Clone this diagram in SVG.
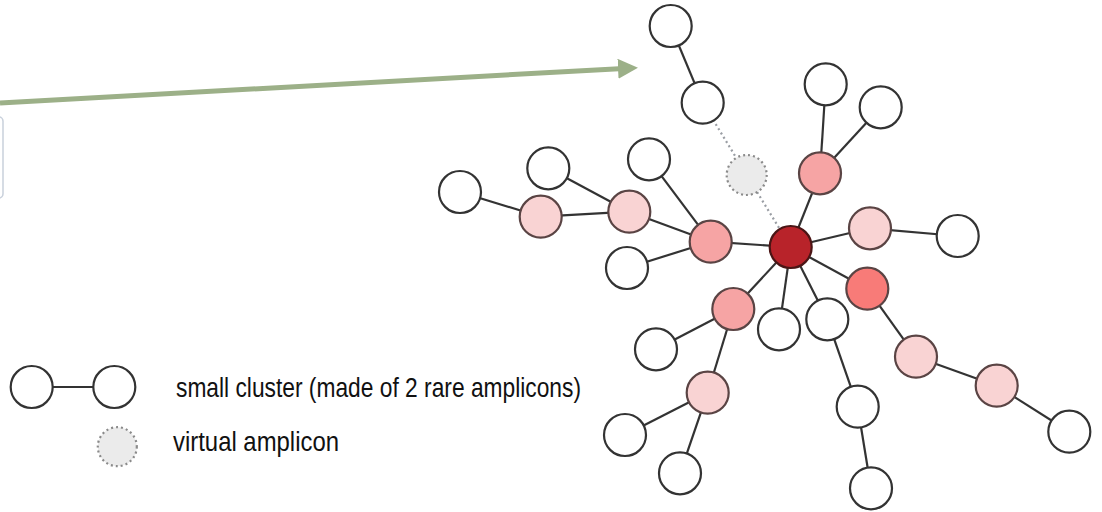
<svg xmlns="http://www.w3.org/2000/svg" width="1102" height="512" viewBox="0 0 1102 512">
<defs>
<style>
.edge{stroke:#333;stroke-width:2.2;fill:none}
.dot{stroke:#9a9ea4;stroke-width:2.2;stroke-dasharray:2 3;fill:none}
.n{stroke:#333;stroke-width:2.2}
.w{fill:#fff}
.lp{fill:#f9d3d3;stroke:#5a4444}
.mp{fill:#f6a4a4;stroke:#5a4444}
.sp{fill:#f87b78;stroke:#5a4444}
.dr{fill:#b8232a;stroke:#4a1515}
.va{fill:#ebebeb;stroke:#8a8a8a;stroke-width:2.2;stroke-dasharray:2 3}
.t{font-family:"Liberation Sans",Arial,sans-serif;font-size:27.5px;fill:#111}
</style>
<marker id="ah" markerUnits="userSpaceOnUse" markerWidth="22" markerHeight="22" refX="1" refY="10" orient="auto">
<path d="M0,0 L20,10 L0,20 z" fill="#9cb088"/>
</marker>
</defs>
<rect width="1102" height="512" fill="#fff"/>
<rect id="box" x="-20" y="117" width="23" height="81" rx="4" fill="#fff" stroke="#c9d1dc" stroke-width="1.5"/>
<g id="arrow">
<line x1="0" y1="103" x2="619" y2="68.7" stroke="#9cb088" stroke-width="5" marker-end="url(#ah)"/>
</g>
<g id="connectors">
<line class="edge" x1="670.7" y1="26" x2="702.7" y2="102.7"/>
<line class="dot" x1="702.7" y1="102.7" x2="746.7" y2="175"/>
<line class="dot" x1="746.7" y1="175" x2="790.7" y2="247"/>
<line class="edge" x1="460" y1="192" x2="540.7" y2="216.7"/>
<line class="edge" x1="540.7" y1="216.7" x2="629.3" y2="211.7"/>
<line class="edge" x1="548.3" y1="168.3" x2="629.3" y2="211.7"/>
<line class="edge" x1="629.3" y1="211.7" x2="710.7" y2="241.7"/>
<line class="edge" x1="649" y1="159.3" x2="710.7" y2="241.7"/>
<line class="edge" x1="627" y1="268" x2="710.7" y2="241.7"/>
<line class="edge" x1="710.7" y1="241.7" x2="790.7" y2="247"/>
<line class="edge" x1="790.7" y1="247" x2="820" y2="173.3"/>
<line class="edge" x1="820" y1="173.3" x2="825.7" y2="84.3"/>
<line class="edge" x1="820" y1="173.3" x2="880.7" y2="107.3"/>
<line class="edge" x1="790.7" y1="247" x2="870" y2="228.3"/>
<line class="edge" x1="870" y1="228.3" x2="957.7" y2="236"/>
<line class="edge" x1="790.7" y1="247" x2="867.3" y2="288.7"/>
<line class="edge" x1="867.3" y1="288.7" x2="916" y2="356.7"/>
<line class="edge" x1="916" y1="356.7" x2="996.7" y2="385.7"/>
<line class="edge" x1="996.7" y1="385.7" x2="1069.3" y2="431.7"/>
<line class="edge" x1="790.7" y1="247" x2="779" y2="329.3"/>
<line class="edge" x1="790.7" y1="247" x2="827.3" y2="319.3"/>
<line class="edge" x1="827.3" y1="319.3" x2="857.7" y2="406.7"/>
<line class="edge" x1="857.7" y1="406.7" x2="871" y2="488.3"/>
<line class="edge" x1="790.7" y1="247" x2="733.3" y2="309"/>
<line class="edge" x1="733.3" y1="309" x2="656" y2="349.3"/>
<line class="edge" x1="733.3" y1="309" x2="707.7" y2="392.7"/>
<line class="edge" x1="707.7" y1="392.7" x2="625" y2="435"/>
<line class="edge" x1="707.7" y1="392.7" x2="680" y2="473.3"/>
<line class="edge" x1="31.7" y1="387" x2="114.3" y2="387"/>
</g>
<g id="n_top"><circle class="n w" cx="670.7" cy="26" r="21"/></g>
<g id="n_top2"><circle class="n w" cx="702.7" cy="102.7" r="21"/></g>
<g id="n_virtual"><circle class="va" cx="746.7" cy="175" r="20"/></g>
<g id="n_w_far"><circle class="n w" cx="460" cy="192" r="21"/></g>
<g id="n_p1"><circle class="n lp" cx="540.7" cy="216.7" r="21"/></g>
<g id="n_w_p2"><circle class="n w" cx="548.3" cy="168.3" r="21"/></g>
<g id="n_p2"><circle class="n lp" cx="629.3" cy="211.7" r="21"/></g>
<g id="n_w_l3a"><circle class="n w" cx="649" cy="159.3" r="21"/></g>
<g id="n_w_l3b"><circle class="n w" cx="627" cy="268" r="21"/></g>
<g id="n_p_l3"><circle class="n mp" cx="710.7" cy="241.7" r="21"/></g>
<g id="n_center"><circle class="n dr" cx="790.7" cy="247" r="21"/></g>
<g id="n_p_ur"><circle class="n mp" cx="820" cy="173.3" r="21"/></g>
<g id="n_w_ur1"><circle class="n w" cx="825.7" cy="84.3" r="21"/></g>
<g id="n_w_ur2"><circle class="n w" cx="880.7" cy="107.3" r="21"/></g>
<g id="n_p_r"><circle class="n lp" cx="870" cy="228.3" r="21"/></g>
<g id="n_w_r"><circle class="n w" cx="957.7" cy="236" r="21"/></g>
<g id="n_s_r"><circle class="n sp" cx="867.3" cy="288.7" r="21"/></g>
<g id="n_p_lr1"><circle class="n lp" cx="916" cy="356.7" r="21"/></g>
<g id="n_p_lr2"><circle class="n lp" cx="996.7" cy="385.7" r="21"/></g>
<g id="n_w_lr"><circle class="n w" cx="1069.3" cy="431.7" r="21"/></g>
<g id="n_w_b1"><circle class="n w" cx="779" cy="329.3" r="21"/></g>
<g id="n_w_b2"><circle class="n w" cx="827.3" cy="319.3" r="21"/></g>
<g id="n_w_mid"><circle class="n w" cx="857.7" cy="406.7" r="21"/></g>
<g id="n_w_bot"><circle class="n w" cx="871" cy="488.3" r="21"/></g>
<g id="n_p_ll"><circle class="n mp" cx="733.3" cy="309" r="21"/></g>
<g id="n_w_ll"><circle class="n w" cx="656" cy="349.3" r="21"/></g>
<g id="n_p_ll2"><circle class="n lp" cx="707.7" cy="392.7" r="21"/></g>
<g id="n_w_ll2a"><circle class="n w" cx="625" cy="435" r="21"/></g>
<g id="n_w_ll2b"><circle class="n w" cx="680" cy="473.3" r="21"/></g>
<g id="legend">
<circle class="n w" cx="31.7" cy="387" r="21"/>
<circle class="n w" cx="114.3" cy="387" r="21"/>
<text class="t" x="176" y="397" textLength="405" lengthAdjust="spacingAndGlyphs">small cluster (made of 2 rare amplicons)</text>
<circle class="va" cx="117.3" cy="446.7" r="19.5"/>
<text class="t" x="173" y="451" textLength="166" lengthAdjust="spacingAndGlyphs">virtual amplicon</text>
</g>
</svg>
